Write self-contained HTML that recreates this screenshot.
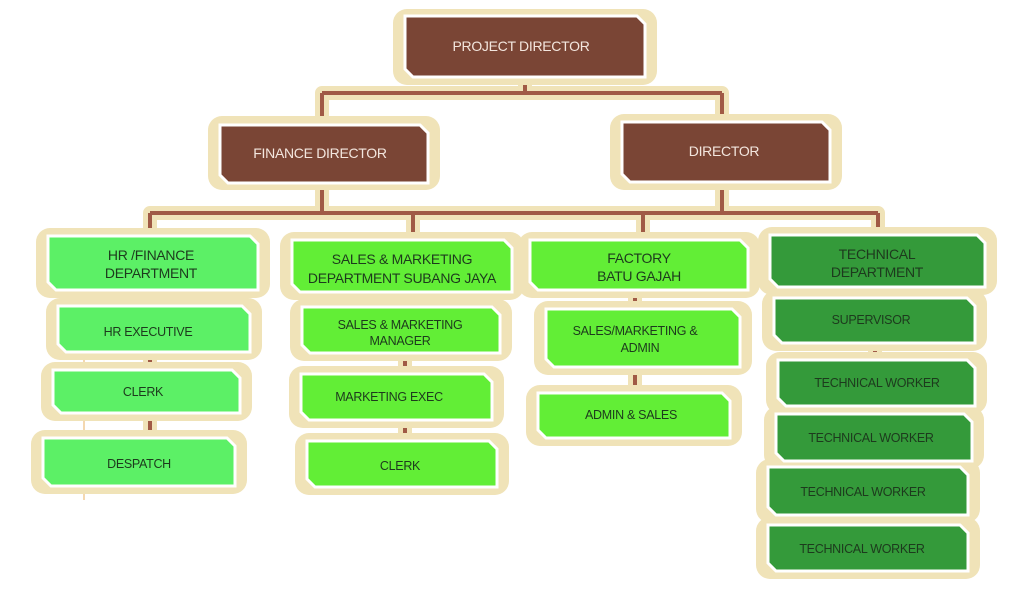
<!DOCTYPE html>
<html><head><meta charset="utf-8"><style>
html,body{margin:0;padding:0;background:#fff;width:1024px;height:602px;overflow:hidden}
svg text{font-family:"Liberation Sans",sans-serif;text-anchor:middle;letter-spacing:-0.3px}
</style></head><body>
<svg width="1024" height="602" viewBox="0 0 1024 602" xmlns="http://www.w3.org/2000/svg">
<g stroke="#f0e3b8" stroke-width="14" fill="none" stroke-linecap="round">
<path d="M525 77V93M322 93H722M322 93V125M722 93V122"/>
<path d="M322 183V213M150 213H878M722 182V213M150 213V236M413 213V240M643 213V240M878 213V235"/>
<path d="M150 290V438M405 292V441M635 290V393M875 287V525"/>
</g>
<g stroke="#a05a45" stroke-width="4" fill="none">
<path d="M525 77V93M322 93H722M322 93V125M722 93V122"/>
<path d="M322 183V213M150 213H878M722 182V213M150 213V236M413 213V240M643 213V240M878 213V235"/>
<path d="M150 290V438M405 292V441M635 290V393M875 287V525"/>
</g>
<path d="M84 240V500" stroke="#e8b060" stroke-width="1"/>
<g fill="#f0e3b8">
<rect x="393" y="9" width="264" height="76" rx="14"/>
<rect x="208" y="116" width="232" height="74" rx="14"/>
<rect x="610" y="114" width="232" height="76" rx="14"/>
<rect x="36" y="228" width="234" height="70" rx="14"/>
<rect x="46" y="298" width="216" height="62" rx="14"/>
<rect x="41" y="362" width="211" height="59" rx="14"/>
<rect x="31" y="430" width="216" height="64" rx="14"/>
<rect x="280" y="232" width="244" height="68" rx="14"/>
<rect x="290" y="299" width="222" height="62" rx="14"/>
<rect x="289" y="366" width="215" height="62" rx="14"/>
<rect x="295" y="433" width="214" height="62" rx="14"/>
<rect x="518" y="232" width="242" height="66" rx="14"/>
<rect x="534" y="301" width="218" height="74" rx="14"/>
<rect x="526" y="385" width="216" height="61" rx="14"/>
<rect x="758" y="227" width="239" height="68" rx="14"/>
<rect x="762" y="290" width="225" height="61" rx="14"/>
<rect x="766" y="352" width="221" height="62" rx="14"/>
<rect x="764" y="406" width="220" height="63" rx="14"/>
<rect x="756" y="459" width="224" height="64" rx="14"/>
<rect x="756" y="517" width="224" height="62" rx="14"/>
</g>
<g stroke="#fff" stroke-width="3">
<polygon fill="#7a4535" points="405,16 637,16 645,24 645,77 413,77 405,69"/>
<polygon fill="#7a4535" points="220,125 420,125 428,133 428,183 228,183 220,175"/>
<polygon fill="#7a4535" points="622,122 822,122 830,130 830,182 630,182 622,174"/>
<g fill="#5cf066">
<polygon points="48,236 250,236 258,244 258,290 56,290 48,282"/>
<polygon points="58,306 242,306 250,314 250,352 66,352 58,344"/>
<polygon points="53,370 232,370 240,378 240,413 61,413 53,405"/>
<polygon points="43,438 227,438 235,446 235,486 51,486 43,478"/>
</g>
<g fill="#62ee36">
<polygon points="292,240 504,240 512,248 512,292 300,292 292,284"/>
<polygon points="302,307 492,307 500,315 500,353 310,353 302,345"/>
<polygon points="301,374 484,374 492,382 492,420 309,420 301,412"/>
<polygon points="307,441 489,441 497,449 497,487 315,487 307,479"/>
<polygon points="530,240 740,240 748,248 748,290 538,290 530,282"/>
<polygon points="546,309 732,309 740,317 740,367 554,367 546,359"/>
<polygon points="538,393 722,393 730,401 730,438 546,438 538,430"/>
</g>
<g fill="#349a3a">
<polygon points="770,235 977,235 985,243 985,287 778,287 770,279"/>
<polygon points="774,298 967,298 975,306 975,343 782,343 774,335"/>
<polygon points="778,360 967,360 975,368 975,406 786,406 778,398"/>
<polygon points="776,414 964,414 972,422 972,461 784,461 776,453"/>
<polygon points="768,467 960,467 968,475 968,515 776,515 768,507"/>
<polygon points="768,525 960,525 968,533 968,571 776,571 768,563"/>
</g>
</g>
<g fill="#f3e6de" font-size="14">
<text x="521" y="51">PROJECT DIRECTOR</text>
<text x="320" y="158">FINANCE DIRECTOR</text>
<text x="724" y="156">DIRECTOR</text>
</g>
<g fill="#1d3a1d" font-size="14">
<text x="151" y="260">HR /FINANCE</text>
<text x="151" y="278">DEPARTMENT</text>
<text x="402" y="264">SALES &amp; MARKETING</text>
<text x="402" y="283">DEPARTMENT SUBANG JAYA</text>
<text x="639" y="263">FACTORY</text>
<text x="639" y="281">BATU GAJAH</text>
<text x="877" y="259">TECHNICAL</text>
<text x="877" y="277">DEPARTMENT</text>
</g>
<g fill="#1d3a1d" font-size="12.5">
<text x="148" y="336">HR EXECUTIVE</text>
<text x="143" y="396">CLERK</text>
<text x="139" y="468">DESPATCH</text>
<text x="400" y="329">SALES &amp; MARKETING</text>
<text x="400" y="345">MANAGER</text>
<text x="389" y="401">MARKETING EXEC</text>
<text x="400" y="470">CLERK</text>
<text x="635" y="335">SALES/MARKETING &amp;</text>
<text x="640" y="352">ADMIN</text>
<text x="631" y="419">ADMIN &amp; SALES</text>
<text x="871" y="324">SUPERVISOR</text>
<text x="877" y="387">TECHNICAL WORKER</text>
<text x="871" y="442">TECHNICAL WORKER</text>
<text x="863" y="496">TECHNICAL WORKER</text>
<text x="862" y="553">TECHNICAL WORKER</text>
</g>
</svg>
</body></html>
